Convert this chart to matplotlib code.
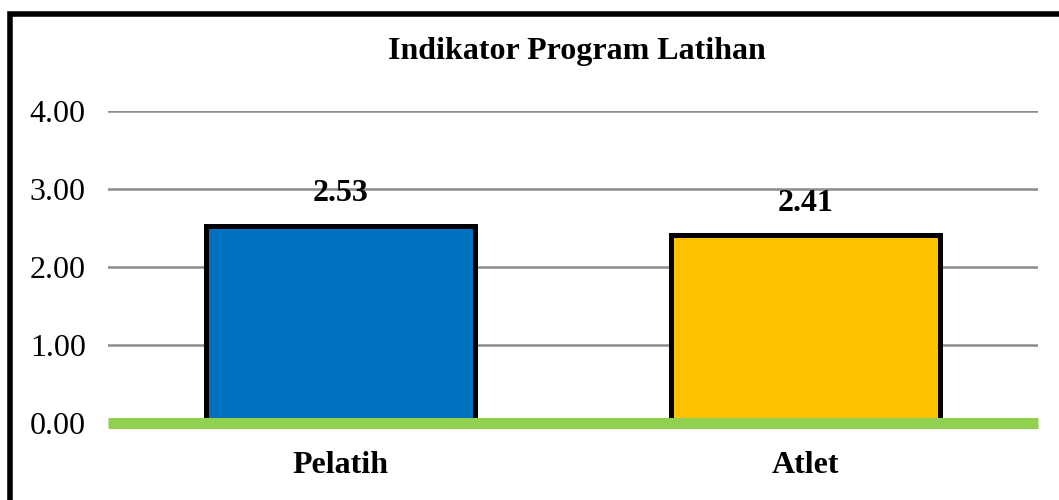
import matplotlib.pyplot as plt
import matplotlib.patches as patches

plt.rcParams['font.family'] = ['Liberation Serif', 'DejaVu Serif']

categories = ['Pelatih', 'Atlet']
values = [2.53, 2.41]
colors = ['#0070C0', '#FFC000']
yticks = [0.0, 1.0, 2.0, 3.0, 4.0]

fig = plt.figure(figsize=(10.59, 5.0), dpi=100)
ax = fig.add_axes([108 / 1059, 1 - 423 / 500, 930 / 1059, 312 / 500])

x = range(len(categories))
bars = ax.bar(x, values, width=0.58, color=colors, edgecolor='black',
              linewidth=3.6, zorder=3)
for xi, v in zip(x, values):
    ax.text(xi, v + 0.41, '{:.2f}'.format(v), ha='center', va='center',
            fontsize=23, fontweight='bold')

ax.set_xlim(-0.5, 1.5)
ax.set_ylim(0, 4)
ax.set_yticks(yticks)
ax.set_yticklabels(['{:.2f}'.format(t) for t in yticks], fontsize=23)
ax.set_xticks(list(x))
ax.set_xticklabels(categories, fontsize=23, fontweight='bold')
ax.tick_params(length=0, axis='y', pad=16)
ax.tick_params(length=0, axis='x', pad=20)
ax.yaxis.grid(True, color='#8c8c8c', linewidth=1.8, zorder=0)
ax.set_axisbelow(True)
for s in ax.spines.values():
    s.set_visible(False)
ax.axhline(0, color='#92D050', linewidth=8, zorder=4, clip_on=False,
           solid_capstyle='butt')

fig.text(577 / 1059, 1 - 52 / 500, 'Indikator Program Latihan', ha='center',
         va='center', fontsize=23, fontweight='bold')

# outer frame, cut off on right and bottom
fig.patches.append(patches.Rectangle((9.5 / 1059, -0.1), 1.2, 1 - 14 / 500 + 0.1,
                                     transform=fig.transFigure, fill=False,
                                     edgecolor='black', linewidth=4))

plt.savefig('out.png', dpi=100)
